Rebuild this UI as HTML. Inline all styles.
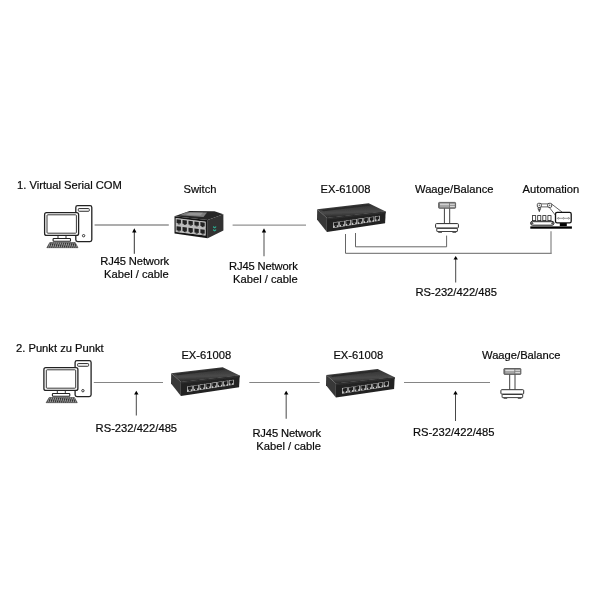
<!DOCTYPE html>
<html>
<head>
<meta charset="utf-8">
<title>EX-61008 Diagram</title>
<style>
html,body{margin:0;padding:0;background:#fff;}
body{width:600px;height:600px;overflow:hidden;font-family:"Liberation Sans",sans-serif;}
svg{display:block;}
text{font-family:"Liberation Sans",sans-serif;font-size:11.2px;fill:#0a0a0a;stroke:#0a0a0a;stroke-width:0.2px;}
.ln{stroke:#929292;stroke-width:1.3;fill:none;}
.dl{stroke:#555;stroke-width:0.9;fill:none;}
.ln2{stroke:#858585;stroke-width:1.15;fill:none;}
</style>
</head>
<body>
<svg width="600" height="600" viewBox="0 0 600 600" style="opacity:0.999">
<defs>
  <filter id="soft" x="-5%" y="-5%" width="110%" height="110%"><feGaussianBlur stdDeviation="0.35"/></filter>
  <pattern id="keys" width="2.1" height="1.7" patternUnits="userSpaceOnUse" patternTransform="skewX(-18)"><rect width="2.1" height="1.7" fill="#2e2e2e"/><rect x="0.3" y="0.35" width="1.1" height="1" fill="#e4e4e4"/></pattern>
  <!-- PC icon -->
  <g id="pc">
    <rect x="75.8" y="205.6" width="16" height="36" rx="1.8" fill="#fff" stroke="#222" stroke-width="1.3"/>
    <rect x="78.3" y="208.5" width="11" height="2.8" rx="0.8" fill="#eee" stroke="#222" stroke-width="0.9"/>
    <circle cx="83.6" cy="235.7" r="1.2" fill="#fff" stroke="#222" stroke-width="0.9"/>
    <rect x="44.6" y="212.6" width="34" height="22.8" rx="2" fill="#fff" stroke="#222" stroke-width="1.3"/>
    <rect x="47" y="214.8" width="29.4" height="18.4" rx="0.8" fill="#fff" stroke="#222" stroke-width="0.9"/>
    <path d="M58 236 V238.2 M66 236 V238.2" stroke="#222" stroke-width="0.9" fill="none"/>
    <rect x="53.1" y="238.5" width="17.4" height="2.7" rx="0.7" fill="#fff" stroke="#222" stroke-width="1.1"/>
    <polygon points="49.8,242.5 75.2,242.5 78,247.7 46.8,247.7" fill="url(#keys)" stroke="#2a2a2a" stroke-width="0.5"/>
  </g>
  <!-- Scale icon -->
  <g id="scale">
    <rect x="438.6" y="202.4" width="17" height="5.9" rx="0.7" fill="#7c7c7c" stroke="#4a4a4a" stroke-width="0.8"/>
    <rect x="440" y="203.6" width="9" height="1.2" fill="#f2f2f2"/>
    <rect x="440" y="204.8" width="9" height="2.6" fill="#a6a6a6"/>
    <rect x="450" y="203.6" width="4.8" height="1.4" fill="#cfcfcf"/>
    <rect x="450" y="205.7" width="4.8" height="1.5" fill="#d8d8d8"/>
    <line x1="444.4" y1="208.5" x2="444.4" y2="223.3" stroke="#2a2a2a" stroke-width="0.9"/>
    <line x1="449.7" y1="208.5" x2="449.7" y2="223.3" stroke="#2a2a2a" stroke-width="0.9"/>
    <rect x="435.6" y="223.6" width="22.8" height="4.4" rx="0.9" fill="#fff" stroke="#2a2a2a" stroke-width="1"/>
    <rect x="436.8" y="228.4" width="20.6" height="3.1" rx="0.4" fill="#fff" stroke="#2a2a2a" stroke-width="0.9"/>
    <rect x="438.2" y="231.8" width="3.8" height="1.2" rx="0.5" fill="#666"/>
    <rect x="452.4" y="231.8" width="3.8" height="1.2" rx="0.5" fill="#666"/>
  </g>
  <!-- one RJ45 port for EX -->
  <g id="p1">
    <rect x="0" y="0" width="5.5" height="5.2" fill="#cfcfcf"/>
    <rect x="0.8" y="0.8" width="3.9" height="2.9" fill="#1c1c1c"/>
    <rect x="1.8" y="3.6" width="1.9" height="0.9" fill="#1c1c1c"/>
  </g>
  <!-- EX-61008 device -->
  <linearGradient id="extop" x1="0" y1="0" x2="0.15" y2="1">
    <stop offset="0" stop-color="#2c2c2c"/><stop offset="0.4" stop-color="#3c3c3c"/><stop offset="0.68" stop-color="#4a4a4a"/><stop offset="0.92" stop-color="#2e2e2e"/><stop offset="1" stop-color="#2a2a2a"/>
  </linearGradient>
  <g id="ex" filter="url(#soft)">
    <polygon points="317.2,209.2 368.7,203.3 385.7,211.5 326.9,217.9" fill="url(#extop)"/>
    <polygon points="321,209.8 367.8,204.5 370.5,205.8 323.5,211.3" fill="#2b2b2b"/>
    <polygon points="317.2,209.2 326.9,217.9 326.9,231.9 317,219.6" fill="#383838"/>
    <polygon points="326.9,217.9 385.7,211.5 385.1,223.3 326.9,231.9" fill="#202020"/>
    <polygon points="326.9,217.9 385.7,211.5 385.7,213.2 326.9,219.8" fill="#2d2d2d"/>
    <g>
      <polygon points="333.00,222.40 338.67,221.58 338.67,227.13 333.00,228.00" fill="#c6c6c6"/>
      <polygon points="333.75,222.74 337.92,222.13 337.92,225.24 333.75,225.87" fill="#1a1a1a"/>
      <polygon points="334.81,225.49 336.86,225.18 336.86,226.85 334.81,227.16" fill="#1a1a1a"/>
      <polygon points="339.30,221.49 344.87,220.68 344.87,226.17 339.30,227.03" fill="#c6c6c6"/>
      <polygon points="340.05,221.82 344.12,221.23 344.12,224.31 340.05,224.92" fill="#1a1a1a"/>
      <polygon points="341.08,224.55 343.09,224.24 343.09,225.90 341.08,226.20" fill="#1a1a1a"/>
      <polygon points="345.49,220.59 350.95,219.80 350.95,225.24 345.49,226.08" fill="#c6c6c6"/>
      <polygon points="346.24,220.92 350.20,220.35 350.20,223.39 346.24,223.99" fill="#1a1a1a"/>
      <polygon points="347.24,223.62 349.20,223.33 349.20,224.96 347.24,225.26" fill="#1a1a1a"/>
      <polygon points="351.56,219.72 356.93,218.94 356.93,224.31 351.56,225.14" fill="#c6c6c6"/>
      <polygon points="352.31,220.04 356.18,219.48 356.18,222.49 352.31,223.08" fill="#1a1a1a"/>
      <polygon points="353.28,222.71 355.21,222.42 355.21,224.04 353.28,224.34" fill="#1a1a1a"/>
      <polygon points="357.53,218.85 362.80,218.09 362.80,223.41 357.53,224.22" fill="#c6c6c6"/>
      <polygon points="358.28,219.17 362.05,218.63 362.05,221.61 358.28,222.18" fill="#1a1a1a"/>
      <polygon points="359.21,221.82 361.11,221.54 361.11,223.14 359.21,223.43" fill="#1a1a1a"/>
      <polygon points="363.39,218.01 368.56,217.26 368.56,222.52 363.39,223.32" fill="#c6c6c6"/>
      <polygon points="364.14,218.32 367.81,217.79 367.81,220.74 364.14,221.29" fill="#1a1a1a"/>
      <polygon points="365.04,220.95 366.91,220.67 366.91,222.25 365.04,222.54" fill="#1a1a1a"/>
      <polygon points="369.14,217.17 374.22,216.44 374.22,221.65 369.14,222.43" fill="#c6c6c6"/>
      <polygon points="369.89,217.49 373.47,216.97 373.47,219.89 369.89,220.43" fill="#1a1a1a"/>
      <polygon points="370.77,220.09 372.60,219.81 372.60,221.38 370.77,221.66" fill="#1a1a1a"/>
      <polygon points="374.79,216.36 379.78,215.64 379.78,220.80 374.79,221.56" fill="#c6c6c6"/>
      <polygon points="375.54,216.66 379.03,216.16 379.03,219.05 375.54,219.58" fill="#1a1a1a"/>
      <polygon points="376.39,219.24 378.18,218.97 378.18,220.52 376.39,220.80" fill="#1a1a1a"/>
    </g>
  </g>
  <!-- switch port -->
  <g id="p2">
    <rect x="0" y="0" width="5.7" height="6.5" fill="#bdbdbd"/>
    <rect x="0.7" y="0.9" width="4.3" height="3.9" fill="#202020"/>
    <rect x="1.9" y="4.7" width="2" height="1" fill="#202020"/>
  </g>
</defs>

<!-- ========== Section 1 ========== -->
<text x="17" y="188.8">1. Virtual Serial COM</text>
<text x="183.5" y="192.6">Switch</text>
<text x="320.6" y="192.6">EX-61008</text>
<text x="415" y="192.6">Waage/Balance</text>
<text x="522.6" y="192.6">Automation</text>

<use href="#pc"/>
<line class="ln" x1="94.6" y1="225" x2="168.8" y2="225"/>
<line class="ln" x1="232.6" y1="225.1" x2="306" y2="225.1"/>

<!-- Switch -->
<g filter="url(#soft)">
  <polygon points="174.5,216.2 189.5,210.9 214.5,211.3 223.4,214.3 207.7,220" fill="#272727"/>
  <polygon points="186.5,212.3 207,212.6 203.5,217 179.5,215.2" fill="#7c7c7c"/>
  <polygon points="190,212.6 203,212.8 200.5,215.6 186,214.8" fill="#959595"/>
  <polygon points="207.7,220 223.4,214.3 223.4,230.4 207.7,238.3" fill="#303030"/>
  <polygon points="174.5,216.2 207.7,220 207.7,238.3 174.5,233.4" fill="#181818"/>
  <g transform="translate(175.9,218.2) skewY(7)">
    <rect x="-0.2" y="-0.1" width="30.00" height="13.8" fill="#bdbdbd"/>
    <use href="#p2" x="0.00" y="0"/><use href="#p2" x="5.95" y="0"/><use href="#p2" x="11.90" y="0"/><use href="#p2" x="17.85" y="0"/><use href="#p2" x="23.80" y="0"/>
    <use href="#p2" x="0.00" y="7.1"/><use href="#p2" x="5.95" y="7.1"/><use href="#p2" x="11.90" y="7.1"/><use href="#p2" x="17.85" y="7.1"/><use href="#p2" x="23.80" y="7.1"/>
  </g>
  <path d="M213 226 l1.6 1 l1.6 -1 v1.6 l-1.6 1 l-1.6 -1 z M213 229 l1.6 1 l1.6 -1 v1.6 l-1.6 1 l-1.6 -1 z" fill="#2fa58c"/>
</g>

<use href="#ex"/>
<use href="#scale"/>

<!-- Automation icon -->
<g id="auto">
  <rect x="530.3" y="226.4" width="41.6" height="2.3" fill="#000"/>
  <rect x="559.8" y="222.8" width="7" height="3.4" fill="#000"/>
  <rect x="555.5" y="212.3" width="15.7" height="10.6" rx="1.6" fill="#fff" stroke="#111" stroke-width="1.3"/>
  <path d="M556.8 218.3 H557.7 M559.3 218.3 H562.7 M564.3 218.3 H567.7 M569.3 218.3 H570" stroke="#333" stroke-width="0.5" fill="none"/>
  <circle cx="558.5" cy="218.3" r="0.75" fill="#fff" stroke="#333" stroke-width="0.45"/>
  <circle cx="563.5" cy="218.3" r="0.75" fill="#fff" stroke="#333" stroke-width="0.45"/>
  <circle cx="568.5" cy="218.3" r="0.75" fill="#fff" stroke="#333" stroke-width="0.45"/>
  <rect x="530.6" y="221.3" width="23.4" height="3.9" rx="1.95" fill="#fff" stroke="#111" stroke-width="1"/>
  <circle cx="532.1" cy="223.2" r="1.2" fill="#555"/>
  <circle cx="552.5" cy="223.2" r="1.2" fill="#555"/>
  <line x1="533.5" y1="222.3" x2="551" y2="222.3" stroke="#999" stroke-width="0.5"/>
  <rect x="532.6" y="215.6" width="3.1" height="5" fill="#fff" stroke="#222" stroke-width="0.8"/>
  <rect x="537.7" y="215.6" width="3.1" height="5" fill="#fff" stroke="#222" stroke-width="0.8"/>
  <rect x="542.8" y="215.6" width="3.1" height="5" fill="#fff" stroke="#222" stroke-width="0.8"/>
  <rect x="547.9" y="215.6" width="3.1" height="5" fill="#fff" stroke="#222" stroke-width="0.8"/>
  <path d="M541 203.9 H548 M541 206.9 H548" stroke="#222" stroke-width="0.7" fill="none"/>
  <rect x="537.3" y="203.3" width="4" height="4.1" rx="1.3" fill="#fff" stroke="#222" stroke-width="0.8"/>
  <rect x="547.7" y="203.3" width="4" height="4.1" rx="1.3" fill="#fff" stroke="#222" stroke-width="0.8"/>
  <circle cx="539.3" cy="205.3" r="0.7" fill="#555"/>
  <circle cx="549.7" cy="205.3" r="0.7" fill="#555"/>
  <path d="M538 207.6 H540.6 V209.2 H538 Z" fill="#ddd" stroke="#222" stroke-width="0.6"/>
  <path d="M538.3 209.4 H540.3 L539.3 211.9 Z" fill="#444" stroke="#222" stroke-width="0.4"/>
  <path d="M551.6 204 L562 212 M549.4 207.5 L555.4 215.2" stroke="#222" stroke-width="0.7" fill="none"/>
</g>

<!-- RS-232 bus lines -->
<path class="dl" d="M355.5 233 V246.8 H446.6 V235.6"/>
<path class="dl" d="M345.5 234 V253.3 H551.5"/>
<line x1="551" y1="231.2" x2="551" y2="253.7" stroke="#858585" stroke-width="1.2"/>

<!-- arrows section 1 -->
<g>
  <line x1="134.3" y1="231" x2="134.3" y2="253.8" stroke="#333" stroke-width="1"/>
  <polygon points="134.3,228.2 136.5,232.6 132.1,232.6" fill="#000"/>
  <line x1="264" y1="231" x2="264" y2="256.3" stroke="#888" stroke-width="1.5"/>
  <polygon points="264,228.2 266.2,232.6 261.8,232.6" fill="#000"/>
  <line x1="455.7" y1="258" x2="455.7" y2="282.5" stroke="#333" stroke-width="0.9"/>
  <polygon points="455.7,256 457.9,259.6 453.5,259.6" fill="#000"/>
</g>

<text x="100.3" y="265" textLength="68.8" lengthAdjust="spacing">RJ45 Network</text>
<text x="104" y="278">Kabel / cable</text>
<text x="229" y="270" textLength="68.8" lengthAdjust="spacing">RJ45 Network</text>
<text x="233" y="283">Kabel / cable</text>
<text x="415.4" y="296.3">RS-232/422/485</text>

<!-- ========== Section 2 ========== -->
<text x="16" y="352.2">2. Punkt zu Punkt</text>
<text x="181.4" y="359.3">EX-61008</text>
<text x="333.4" y="359.3">EX-61008</text>
<text x="482" y="359.3">Waage/Balance</text>

<use href="#pc" transform="translate(-0.7,155)"/>
<use href="#ex" transform="translate(-146,164)"/>
<use href="#ex" transform="translate(9,165.7)"/>
<use href="#scale" transform="translate(65.3,166.1)"/>

<line class="ln2" x1="93.8" y1="382.5" x2="163" y2="382.5"/>
<line class="ln2" x1="249.3" y1="382.5" x2="319.7" y2="382.5"/>
<line class="ln2" x1="404" y1="382.5" x2="490" y2="382.5"/>

<g>
  <line x1="136.3" y1="393" x2="136.3" y2="415.5" stroke="#333" stroke-width="0.9"/>
  <polygon points="136.3,390.7 138.5,394.5 134.1,394.5" fill="#000"/>
  <line x1="286.2" y1="393" x2="286.2" y2="418.8" stroke="#666" stroke-width="1.2"/>
  <polygon points="286.2,390.7 288.4,394.5 284,394.5" fill="#000"/>
  <line x1="455.5" y1="393" x2="455.5" y2="421" stroke="#333" stroke-width="0.9"/>
  <polygon points="455.5,390.7 457.7,394.5 453.3,394.5" fill="#000"/>
</g>

<text x="95.6" y="432">RS-232/422/485</text>
<text x="252.4" y="437" textLength="68.8" lengthAdjust="spacing">RJ45 Network</text>
<text x="256.3" y="449.6">Kabel / cable</text>
<text x="413" y="435.7">RS-232/422/485</text>
</svg>
</body>
</html>
